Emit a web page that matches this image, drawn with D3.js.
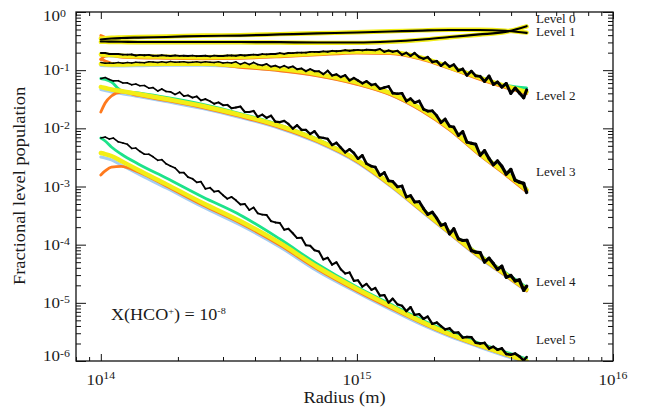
<!DOCTYPE html>
<html>
<head>
<meta charset="utf-8">
<script src="https://cdn.jsdelivr.net/npm/d3@7"></script>
<style>
  body { margin: 0; background: #fff; }
  svg { display: block; }
  text { font-family: "Liberation Serif", "Times New Roman", serif; fill: #1a1a1a; }
</style>
</head>
<body>
<svg id="chart" width="645" height="412"></svg>
<script>
// ---- radius grids (m) ----
const radiusCoarse = [1.0e14, 1.04e14, 1.1e14, 1.2e14, 1.4e14, 1.8e14, 2.5e14, 3.5e14, 5e14, 7e14,
  1e15, 1.35e15, 1.8e15, 2.3e15, 3e15, 3.8e15, 4.6e15];

const radiusFine = [1.00e14, 1.04e14, 1.08e14, 1.12e14, 1.17e14, 1.22e14, 1.27e14, 1.32e14, 1.37e14, 1.42e14,
  1.48e14, 1.54e14, 1.60e14, 1.67e14, 1.73e14, 1.80e14, 1.87e14, 1.95e14, 2.03e14, 2.11e14,
  2.19e14, 2.28e14, 2.37e14, 2.46e14, 2.56e14, 2.67e14, 2.77e14, 2.88e14, 3.00e14, 3.12e14,
  3.24e14, 3.37e14, 3.51e14, 3.65e14, 3.80e14, 3.95e14, 4.10e14, 4.27e14, 4.44e14, 4.62e14,
  4.80e14, 5.00e14, 5.20e14, 5.40e14, 5.62e14, 5.84e14, 6.08e14, 6.32e14, 6.57e14, 6.83e14,
  7.11e14, 7.39e14, 7.69e14, 8.00e14, 8.32e14, 8.65e14, 9.00e14, 9.36e14, 9.73e14, 1.01e15,
  1.05e15, 1.09e15, 1.14e15, 1.18e15, 1.23e15, 1.28e15, 1.33e15, 1.38e15, 1.44e15, 1.50e15,
  1.56e15, 1.62e15, 1.68e15, 1.75e15, 1.82e15, 1.89e15, 1.97e15, 2.05e15, 2.13e15, 2.21e15,
  2.30e15, 2.39e15, 2.49e15, 2.59e15, 2.69e15, 2.80e15, 2.91e15, 3.03e15, 3.15e15, 3.28e15,
  3.41e15, 3.54e15, 3.68e15, 3.83e15, 3.99e15, 4.15e15, 4.31e15, 4.48e15, 4.60e15];

// ---- Monte Carlo populations (black) ----
const level0MC = [0.311, 0.311, 0.309, 0.308, 0.305, 0.305, 0.305, 0.305, 0.303, 0.299, 0.299, 0.311, 0.337, 0.372, 0.411, 0.455, 0.570];
const level1MC = [0.337, 0.343, 0.350, 0.357, 0.364, 0.372, 0.387, 0.394, 0.411, 0.428, 0.444, 0.462, 0.480, 0.490, 0.490, 0.475, 0.439];
const level2MC = [0.197, 0.197, 0.190, 0.190, 0.190, 0.185, 0.185, 0.186, 0.179, 0.183,
  0.180, 0.183, 0.177, 0.177, 0.180, 0.178, 0.175, 0.179, 0.176, 0.177,
  0.175, 0.178, 0.174, 0.175, 0.177, 0.173, 0.178, 0.175, 0.175, 0.179,
  0.179, 0.177, 0.182, 0.179, 0.182, 0.185, 0.182, 0.189, 0.187, 0.190,
  0.190, 0.196, 0.191, 0.197, 0.196, 0.200, 0.200, 0.200, 0.206, 0.206,
  0.205, 0.210, 0.207, 0.215, 0.212, 0.215, 0.220, 0.216, 0.220, 0.223,
  0.219, 0.224, 0.222, 0.220, 0.231, 0.207, 0.218, 0.207, 0.215, 0.184,
  0.199, 0.176, 0.197, 0.168, 0.157, 0.168, 0.138, 0.143, 0.119, 0.135,
  0.115, 0.125, 0.0983, 0.105, 0.0813, 0.0964, 0.0800, 0.0784, 0.0639, 0.0794,
  0.0569, 0.0626, 0.0512, 0.0590, 0.0399, 0.0492, 0.0407, 0.0336, 0.0456];
const level3MC = [0.135, 0.131, 0.133, 0.132, 0.135, 0.131, 0.135, 0.133, 0.137, 0.135,
  0.134, 0.139, 0.138, 0.136, 0.140, 0.136, 0.141, 0.137, 0.138, 0.140,
  0.136, 0.137, 0.139, 0.136, 0.139, 0.137, 0.135, 0.139, 0.133, 0.136,
  0.133, 0.139, 0.126, 0.135, 0.125, 0.136, 0.125, 0.121, 0.128, 0.115,
  0.120, 0.111, 0.119, 0.110, 0.116, 0.104, 0.107, 0.0960, 0.104, 0.0960,
  0.0958, 0.0852, 0.0979, 0.0807, 0.0847, 0.0760, 0.0820, 0.0666, 0.0735, 0.0663,
  0.0594, 0.0644, 0.0557, 0.0577, 0.0478, 0.0504, 0.0527, 0.0403, 0.0393, 0.0401,
  0.0294, 0.0325, 0.0276, 0.0296, 0.0213, 0.0198, 0.0200, 0.0165, 0.0126, 0.0144,
  0.0109, 0.0105, 0.00756, 0.00879, 0.00580, 0.00553, 0.00532, 0.00345, 0.00414, 0.00303,
  0.00236, 0.00274, 0.00223, 0.00163, 0.00196, 0.00128, 0.00119, 0.00113, 0.000789];
const level4MC = [0.0716, 0.0748, 0.0691, 0.0654, 0.0659, 0.0602, 0.0604, 0.0560, 0.0578, 0.0541,
  0.0545, 0.0490, 0.0502, 0.0437, 0.0476, 0.0430, 0.0425, 0.0383, 0.0418, 0.0358,
  0.0368, 0.0338, 0.0353, 0.0302, 0.0319, 0.0292, 0.0265, 0.0279, 0.0250, 0.0253,
  0.0221, 0.0228, 0.0237, 0.0191, 0.0191, 0.0199, 0.0158, 0.0172, 0.0152, 0.0165,
  0.0130, 0.0128, 0.0134, 0.0119, 0.00990, 0.0113, 0.00940, 0.00940, 0.00799, 0.00890,
  0.00704, 0.00685, 0.00658, 0.00517, 0.00564, 0.00467, 0.00387, 0.00436, 0.00377, 0.00300,
  0.00343, 0.00247, 0.00223, 0.00215, 0.00155, 0.00174, 0.00125, 0.00122, 0.000989, 0.00102,
  0.000660, 0.000698, 0.000542, 0.000550, 0.000417, 0.000332, 0.000362, 0.000285, 0.000215, 0.000228,
  0.000153, 0.000188, 0.000126, 0.000118, 0.000119, 7.91e-5, 7.43e-5, 7.31e-5, 5.02e-5, 5.86e-5,
  4.73e-5, 3.76e-5, 4.25e-5, 2.76e-5, 2.95e-5, 2.38e-5, 2.47e-5, 1.64e-5, 1.93e-5];
const level5MC = [0.00684, 0.00708, 0.00653, 0.00681, 0.00586, 0.00560, 0.00531, 0.00451, 0.00458, 0.00403,
  0.00358, 0.00359, 0.00324, 0.00282, 0.00289, 0.00245, 0.00226, 0.00208, 0.00173, 0.00173,
  0.00145, 0.00136, 0.00118, 0.00121, 0.000913, 0.000952, 0.000813, 0.000837, 0.000709, 0.000615,
  0.000661, 0.000579, 0.000491, 0.000500, 0.000395, 0.000436, 0.000346, 0.000329, 0.000324, 0.000254,
  0.000241, 0.000236, 0.000181, 0.000188, 0.000157, 0.000130, 0.000131, 9.76e-5, 9.59e-5, 8.04e-5,
  7.62e-5, 5.57e-5, 5.96e-5, 4.53e-5, 4.98e-5, 3.77e-5, 3.20e-5, 3.33e-5, 2.39e-5, 2.44e-5,
  1.90e-5, 2.12e-5, 1.67e-5, 1.80e-5, 1.33e-5, 1.36e-5, 1.01e-5, 1.18e-5, 9.40e-6, 8.92e-6,
  7.19e-6, 8.45e-6, 6.21e-6, 6.39e-6, 5.30e-6, 5.80e-6, 4.36e-6, 4.59e-6, 3.99e-6, 3.49e-6,
  3.65e-6, 3.07e-6, 3.09e-6, 2.52e-6, 2.59e-6, 2.56e-6, 2.06e-6, 2.00e-6, 2.05e-6, 1.64e-6,
  1.76e-6, 1.56e-6, 1.65e-6, 1.32e-6, 1.28e-6, 1.34e-6, 1.20e-6, 1.02e-6, 1.17e-6];

// ---- comparison codes (on radiusCoarse) ----
const level0Yellow = [0.306, 0.306, 0.304, 0.303, 0.300, 0.300, 0.300, 0.300, 0.298, 0.295, 0.295, 0.307, 0.333, 0.368, 0.407, 0.452, 0.565];
const level0Green  = [0.308, 0.308, 0.306, 0.305, 0.303, 0.303, 0.303, 0.302, 0.300, 0.297, 0.297, 0.309, 0.335, 0.370, 0.409, 0.455, 0.575];
const level0Blue   = [0.303, 0.303, 0.301, 0.300, 0.297, 0.297, 0.297, 0.297, 0.295, 0.292, 0.292, 0.304, 0.330, 0.364, 0.403, 0.448, 0.560];
const level0Orange = [0.305, 0.305, 0.303, 0.302, 0.299, 0.299, 0.299, 0.299, 0.297, 0.294, 0.294, 0.306, 0.332, 0.367, 0.406, 0.450, 0.562];

const level1Yellow = [0.350, 0.355, 0.360, 0.365, 0.372, 0.380, 0.394, 0.400, 0.416, 0.432, 0.448, 0.466, 0.484, 0.494, 0.494, 0.479, 0.442];
const level1Green  = [0.340, 0.345, 0.352, 0.358, 0.366, 0.374, 0.389, 0.396, 0.413, 0.430, 0.446, 0.464, 0.482, 0.492, 0.493, 0.478, 0.441];
const level1Blue   = [0.345, 0.350, 0.355, 0.361, 0.368, 0.377, 0.391, 0.398, 0.414, 0.431, 0.447, 0.465, 0.483, 0.493, 0.493, 0.478, 0.441];
const level1Orange = [0.394, 0.368, 0.356, 0.358, 0.366, 0.375, 0.390, 0.397, 0.413, 0.430, 0.446, 0.464, 0.482, 0.492, 0.492, 0.477, 0.440];

const level2Yellow = [0.186, 0.184, 0.181, 0.177, 0.173, 0.170, 0.167, 0.170, 0.181, 0.194, 0.209, 0.205, 0.162, 0.113, 0.0748, 0.0534, 0.0421];
const level2Green  = [0.190, 0.186, 0.183, 0.179, 0.175, 0.172, 0.169, 0.171, 0.182, 0.196, 0.211, 0.207, 0.164, 0.116, 0.0770, 0.0550, 0.0494];
const level2Blue   = [0.179, 0.176, 0.174, 0.170, 0.166, 0.164, 0.160, 0.163, 0.174, 0.186, 0.201, 0.197, 0.155, 0.109, 0.0718, 0.0513, 0.0404];
const level2Orange = [0.153, 0.174, 0.179, 0.167, 0.163, 0.160, 0.157, 0.160, 0.170, 0.183, 0.197, 0.193, 0.152, 0.107, 0.0703, 0.0502, 0.0396];

const level3Yellow = [0.128, 0.126, 0.125, 0.125, 0.127, 0.129, 0.129, 0.120, 0.105, 0.0859, 0.0614, 0.0405, 0.0211, 0.0101, 0.00377, 0.00171, 0.000871];
const level3Green  = [0.129, 0.127, 0.126, 0.126, 0.128, 0.130, 0.130, 0.122, 0.106, 0.0870, 0.0625, 0.0412, 0.0216, 0.0104, 0.00390, 0.00178, 0.000920];
const level3Blue   = [0.120, 0.119, 0.118, 0.118, 0.119, 0.122, 0.121, 0.113, 0.0984, 0.0807, 0.0577, 0.0381, 0.0198, 0.00952, 0.00354, 0.00161, 0.000819];
const level3Orange = [0.155, 0.144, 0.131, 0.125, 0.126, 0.129, 0.128, 0.112, 0.0974, 0.0799, 0.0571, 0.0377, 0.0196, 0.00942, 0.00351, 0.00159, 0.000810];

const level4Yellow = [0.0514, 0.0494, 0.0465, 0.0438, 0.0389, 0.0319, 0.0242, 0.0170, 0.0110, 0.00630, 0.00286, 0.00110, 0.000395, 0.000165, 6.52e-5, 3.13e-5, 1.70e-5];
const level4Green  = [0.0719, 0.0691, 0.0626, 0.0447, 0.0405, 0.0339, 0.0257, 0.0180, 0.0114, 0.00656, 0.00291, 0.00113, 0.000411, 0.000172, 6.78e-5, 3.33e-5, 1.84e-5];
const level4Blue   = [0.0465, 0.0447, 0.0421, 0.0397, 0.0353, 0.0289, 0.0219, 0.0154, 0.00994, 0.00571, 0.00259, 0.00102, 0.000365, 0.000153, 6.02e-5, 2.89e-5, 1.60e-5];
const level4Orange = [0.0191, 0.0273, 0.0360, 0.0421, 0.0367, 0.0301, 0.0228, 0.0160, 0.0103, 0.00594, 0.00269, 0.00104, 0.000372, 0.000156, 6.14e-5, 2.95e-5, 1.60e-5];

const level5Yellow = [0.00377, 0.00362, 0.00335, 0.00275, 0.00192, 0.00110, 0.000521, 0.000255, 0.000107, 4.13e-5, 1.73e-5, 8.83e-6, 4.69e-6, 2.91e-6, 1.89e-6, 1.32e-6, 1.00e-6];
const level5Green  = [0.00681, 0.00606, 0.00478, 0.00362, 0.00244, 0.00140, 0.000660, 0.000324, 0.000125, 4.66e-5, 1.87e-5, 9.55e-6, 5.07e-6, 3.15e-6, 2.04e-6, 1.43e-6, 1.08e-6];
const level5Blue   = [0.00322, 0.00309, 0.00286, 0.00234, 0.00164, 0.000943, 0.000444, 0.000218, 9.12e-5, 3.53e-5, 1.51e-5, 7.69e-6, 4.16e-6, 2.64e-6, 1.74e-6, 1.22e-6, 9.25e-7];
const level5Orange = [0.00158, 0.00185, 0.00216, 0.00221, 0.00178, 0.00102, 0.000481, 0.000236, 9.87e-5, 3.82e-5, 1.60e-5, 8.16e-6, 4.42e-6, 2.77e-6, 1.81e-6, 1.27e-6, 9.62e-7];

// ---- text ----
const levelNames = ["Level 0", "Level 1", "Level 2", "Level 3", "Level 4", "Level 5"];
const levelLabelRadius = 5.0e15;
const levelLabelValue = [0.639, 0.382, 0.0307, 0.00149, 1.95e-5, 1.96e-6];
const xMajorTicks = [1e14, 1e15, 1e16];
const xTickExponents = ["14", "15", "16"];
const yMajorTicks = [1, 1e-1, 1e-2, 1e-3, 1e-4, 1e-5, 1e-6];
const yTickExponents = ["0", "-1", "-2", "-3", "-4", "-5", "-6"];

// ---- layout ----
const plot = { left: 76, right: 613, top: 12, bottom: 361 };
const svg = d3.select("#chart");

const x = d3.scaleLog().domain([8e13, 1e16]).range([plot.left, plot.right]);
const y = d3.scaleLog().domain([1e-6, 1]).range([plot.bottom, plot.top]);

svg.append("defs").append("clipPath").attr("id", "plotClip")
  .append("rect")
  .attr("x", plot.left).attr("y", plot.top)
  .attr("width", plot.right - plot.left).attr("height", plot.bottom - plot.top);

const colors = { blue: "#a4cdf2", orange: "#ff7a1e", yellow: "#f3ee16", green: "#1de38a", black: "#000" };

// Monte Carlo curves get heavier toward large radii where the sampling noise piles up
const levels = [
  { mc: level0MC, mcGrid: radiusCoarse, w0: 2.2, w1: 2.2, from: 0,
    yellow: level0Yellow, green: level0Green, blue: level0Blue, orange: level0Orange },
  { mc: level1MC, mcGrid: radiusCoarse, w0: 2.2, w1: 2.2, from: 0,
    yellow: level1Yellow, green: level1Green, blue: level1Blue, orange: level1Orange },
  { mc: level2MC, mcGrid: radiusFine, w0: 1.9, w1: 3.2, from: 0.62,
    yellow: level2Yellow, green: level2Green, blue: level2Blue, orange: level2Orange },
  { mc: level3MC, mcGrid: radiusFine, w0: 1.5, w1: 3.4, from: 0.3,
    yellow: level3Yellow, green: level3Green, blue: level3Blue, orange: level3Orange },
  { mc: level4MC, mcGrid: radiusFine, w0: 1.6, w1: 3.4, from: 0.1,
    yellow: level4Yellow, green: level4Green, blue: level4Blue, orange: level4Orange },
  { mc: level5MC, mcGrid: radiusFine, w0: 1.6, w1: 2.6, from: 0.1,
    yellow: level5Yellow, green: level5Green, blue: level5Blue, orange: level5Orange }
];

const zip = (rs, vs) => rs.map((r, i) => [r, vs[i]]);
const smooth = d3.line().x(d => x(d[0])).y(d => y(d[1])).curve(d3.curveMonotoneX);
const jagged = d3.line().x(d => x(d[0])).y(d => y(d[1]));

const lines = svg.append("g").attr("clip-path", "url(#plotClip)")
  .attr("fill", "none").attr("stroke-linejoin", "round").attr("stroke-linecap", "round");

const modelStyles = [
  { key: "blue", width: 3 },
  { key: "green", width: 2.8 },
  { key: "orange", width: 2.8 },
  { key: "yellow", width: 4.4 }
];
modelStyles.forEach(m => {
  levels.forEach(lv => {
    lines.append("path")
      .attr("d", smooth(zip(radiusCoarse, lv[m.key])))
      .attr("stroke", colors[m.key])
      .attr("stroke-width", m.width);
  });
});

levels.forEach(lv => {
  const pts = zip(lv.mcGrid, lv.mc);
  if (lv.mcGrid === radiusCoarse) {
    lines.append("path").attr("d", smooth(pts))
      .attr("stroke", colors.black).attr("stroke-width", lv.w0);
    return;
  }
  const n = pts.length - 1;
  for (let i = 0; i < n; i++) {
    const f = i / n;
    const t = f <= lv.from ? 0 : (f - lv.from) / (1 - lv.from);
    lines.append("path").attr("d", jagged([pts[i], pts[i + 1]]))
      .attr("stroke", colors.black)
      .attr("stroke-width", lv.w0 + (lv.w1 - lv.w0) * t);
  }
});

// ---- frame and ticks ----
const axisColor = "#111";
const isMajor = v => Math.abs(Math.log10(v) - Math.round(Math.log10(v))) < 1e-9;
const xMinor = x.ticks().filter(v => !isMajor(v));
const yMinor = y.ticks().filter(v => !isMajor(v));

function drawAxis(gen, tx, ty) {
  const g = svg.append("g").attr("transform", `translate(${tx},${ty})`).call(gen);
  g.select(".domain").remove();
  g.selectAll("line").attr("stroke", axisColor).attr("stroke-width", 1);
  g.selectAll("text").remove();
}
drawAxis(d3.axisBottom(x).tickValues(xMajorTicks).tickSize(-7), 0, plot.bottom);
drawAxis(d3.axisBottom(x).tickValues(xMinor).tickSize(-4), 0, plot.bottom);
drawAxis(d3.axisTop(x).tickValues(xMajorTicks).tickSize(-7), 0, plot.top);
drawAxis(d3.axisTop(x).tickValues(xMinor).tickSize(-4), 0, plot.top);
drawAxis(d3.axisLeft(y).tickValues(yMajorTicks).tickSize(-10), plot.left, 0);
drawAxis(d3.axisLeft(y).tickValues(yMinor).tickSize(-5), plot.left, 0);
drawAxis(d3.axisRight(y).tickValues(yMajorTicks).tickSize(-10), plot.right, 0);
drawAxis(d3.axisRight(y).tickValues(yMinor).tickSize(-5), plot.right, 0);

svg.append("rect")
  .attr("x", plot.left).attr("y", plot.top)
  .attr("width", plot.right - plot.left).attr("height", plot.bottom - plot.top)
  .attr("fill", "none").attr("stroke", axisColor).attr("stroke-width", 1.3);

// ---- text helpers (serif face set slightly wide) ----
function wideText(tx, ty, sx, anchor, size, rotate) {
  const tr = `translate(${tx},${ty})` + (rotate ? ` rotate(${rotate})` : "") + ` scale(${sx},1)`;
  return svg.append("g").attr("transform", tr)
    .append("text").attr("text-anchor", anchor).attr("font-size", size);
}
function powerLabel(t, base, exp, supSize, rise) {
  t.append("tspan").text(base);
  t.append("tspan").attr("dy", -rise).attr("font-size", supSize).text(exp);
}

// x tick labels
xMajorTicks.forEach((v, i) => {
  const t = wideText(x(v), 385, 1.13, "middle", 15);
  powerLabel(t, "10", xTickExponents[i], 10.5, 6.5);
});
// y tick labels
yMajorTicks.forEach((v, i) => {
  let shift = 5;
  if (i === 0) shift = 9;
  if (i === yMajorTicks.length - 1) shift = 0;
  const t = wideText(43, y(v) + shift, 1.13, "start", 15);
  powerLabel(t, "10", yTickExponents[i], 10.5, 4.5);
});

// axis titles
wideText((plot.left + plot.right) / 2, 403, 1.15, "middle", 16).text("Radius (m)");
wideText(24.5, 186, 1.15, "middle", 16, -90).text("Fractional level population");

// level labels
levelNames.forEach((name, i) => {
  wideText(x(levelLabelRadius), y(levelLabelValue[i]), 1.14, "start", 11.5).text(name);
});

// abundance annotation
const ann = wideText(111, 320, 1.13, "start", 16);
ann.append("tspan").text("X(HCO");
ann.append("tspan").attr("dy", -6).attr("font-size", 9).text("+");
ann.append("tspan").attr("dy", 6).text(") = 10");
ann.append("tspan").attr("dy", -6.5).attr("font-size", 9).text("-8");
</script>
</body>
</html>
